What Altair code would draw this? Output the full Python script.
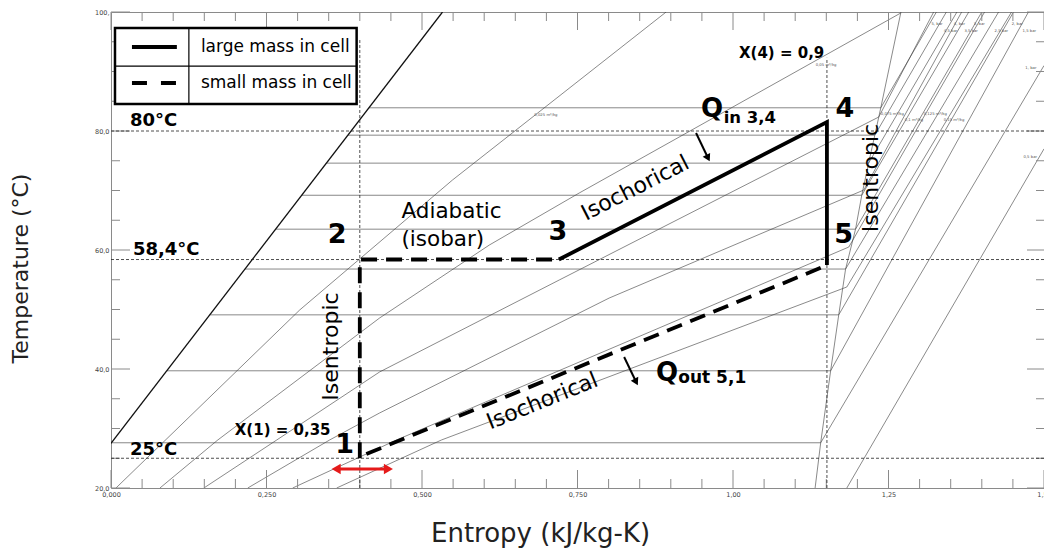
import altair as alt
import pandas as pd

W, H = 933, 476
FONT = "DejaVu Sans"

# ---------------- axis ticks ----------------
x_major = [0.0, 0.25, 0.5, 0.75, 1.0, 1.25, 1.5]
x_major_labels = ["0,000", "0,250", "0,500", "0,750", "1,00", "1,25", "1,50"]
x_minor = [0.05, 0.10, 0.15, 0.20, 0.30, 0.35, 0.40, 0.45, 0.55, 0.60, 0.65, 0.70,
           0.80, 0.85, 0.90, 0.95, 1.05, 1.10, 1.15, 1.20, 1.30, 1.35, 1.40, 1.45]
y_major = [20, 40, 60, 80, 100]
y_major_labels = ["20,0", "40,0", "60,0", "80,0", "100,"]
y_minor = [25, 30, 35, 45, 50, 55, 65, 70, 75, 85, 90, 95]

# ---------------- saturation curves ----------------
sat_liq_s = [0.0, 0.533]
sat_liq_T = [27.5, 100.0]
sat_vap_s = [1.132, 1.141, 1.157, 1.170, 1.181, 1.197, 1.207, 1.218, 1.228, 1.2376, 1.270]
sat_vap_T = [20.0, 27.6, 39.7, 49.1, 56.8, 63.5, 69.2, 74.6, 79.3, 83.9, 100.0]

# two-phase isobars (horizontal)
isobar_T = [27.6, 39.7, 49.1, 56.8, 63.5, 69.2, 74.6, 79.3, 83.9]
isobar_s_liq = [0.001, 0.0898, 0.159, 0.2156, 0.265, 0.307, 0.3466, 0.381, 0.415]
isobar_s_vap = [1.141, 1.157, 1.170, 1.181, 1.197, 1.207, 1.218, 1.228, 1.2376]

# isochores (two-phase part + superheated continuation)
iso_025_s = [0.008, 0.3034, 0.549, 0.8925]
iso_025_T = [20.0, 49.92, 71.76, 100.0]
iso_05_s = [0.0787, 0.1717, 0.4318, 0.6083, 0.7528, 1.2697]
iso_05_T = [20.0, 28.07, 48.57, 60.84, 69.58, 99.83]
iso_075_s = [0.1493, 0.2665, 0.4318, 0.7207, 1.2343, 1.3226]
iso_075_T = [20.0, 28.07, 39.50, 54.96, 82.35, 100.0]
iso_1_s = [0.2199, 0.3515, 0.4318, 0.8010, 1.2103, 1.2745, 1.3676]
iso_1_T = [20.0, 28.07, 32.61, 51.93, 70.08, 82.35, 100.0]
iso_125_s = [0.2921, 0.4591, 1.1862, 1.3066, 1.4045]
iso_125_T = [20.0, 28.07, 60.50, 82.35, 100.0]
iso_15_s = [0.3628, 0.5313, 1.1830, 1.3467, 1.4478]
iso_15_T = [20.0, 28.07, 53.78, 82.35, 100.0]

# superheated isobars: start (on saturation / bottom) -> end (top / right edge)
sh_bar_s0 = [1.183, 1.141, 1.157, 1.170, 1.181, 1.197, 1.207, 1.218, 1.228, 1.2376]
sh_bar_T0 = [20.0, 27.6, 39.7, 49.1, 56.8, 63.5, 69.2, 74.6, 79.3, 83.9]
sh_bar_s1 = [1.500, 1.500, 1.475, 1.451, 1.427, 1.400, 1.379, 1.360, 1.343, 1.327]
sh_bar_T1 = [77.0, 91.0, 100.0, 100.0, 100.0, 100.0, 100.0, 100.0, 100.0, 100.0]

# tiny chart labels
tiny_text = ["0,025 m³/kg", "0,05 m³/kg", "0,075 m³/kg", "0,1 m³/kg", "0,125 m³/kg", "0,15 m³/kg",
             "5, bar", "4,5 bar", "4, bar", "3,5 bar", "3, bar", "2,5 bar", "2, bar", "1,5 bar",
             "1, bar", "0,5 bar"]
tiny_s = [0.6806, 1.133, 1.2376, 1.2761, 1.3066, 1.3387,
          1.319, 1.339, 1.355, 1.372, 1.387, 1.4205, 1.448, 1.4655, 1.470, 1.467]
tiny_T = [82.7, 91.1, 82.9, 81.8, 82.9, 81.8,
          97.9, 96.8, 97.9, 96.8, 97.9, 96.8, 97.9, 96.8, 90.6, 75.6]

# ---------------- cycle ----------------
solid_s = [0.72, 1.151, 1.151]      # 3 -> 4 -> 5
solid_T = [58.4, 81.5, 57.5]
dash_a_s = [0.40, 0.40, 0.72]       # 1 -> 2 -> 3
dash_a_T = [25.0, 58.4, 58.4]
dash_b_s = [1.141, 0.403]           # 5 -> 1
dash_b_T = [57.0, 25.4]

# dotted guide lines
hdot_T = [80.0, 58.4, 25.0]
vdot_s = [0.40, 1.151]
vdot_T1 = [95.6, 92.3]

# ---------------- annotations ----------------
bold_text = ["80°C", "58,4°C", "25°C", "X(1) = 0,35", "X(4) = 0,9", "Q", "in 3,4", "Q", "out 5,1"]
bold_s = [0.0305, 0.0353, 0.0305, 0.199, 1.0096, 0.9486, 0.9850, 0.8764, 0.912]
bold_T = [80.84, 59.16, 25.55, 28.9, 92.27, 82.35, 81.34, 37.98, 37.65]
bold_size = [18, 18, 18, 15, 15, 26, 16.5, 26, 17]

num_text = ["1", "2", "3", "4", "5"]
num_s = [0.3756, 0.3636, 0.7183, 1.1798, 1.178]
num_T = [25.88, 61.18, 61.68, 82.35, 61.18]

plain_text = ["Adiabatic", "(isobar)"]
plain_s = [0.467, 0.467]
plain_T = [65.38, 60.67]

rot_text = ["Isentropic", "Isentropic", "Isochorical", "Isochorical"]
rot_s = [0.354, 1.2223, 0.8427, 0.6934]
rot_T = [43.78, 72.1, 70.42, 34.62]
rot_angle = [270, 270, 333, 338]

# arrows
qin_s = [0.9406, 0.9599]
qin_T = [79.66, 75.46]
qout_s = [0.8250, 0.8443]
qout_T = [42.02, 37.82]
red_s = [0.362, 0.446]
red_T = [23.2, 23.2]

# legend box
leg_s = [0.0064, 0.3949]
leg_T = [84.54, 97.31]
leg_div_s = 0.1252
leg_div_T = 90.92
leg_row_T = [94.12, 88.07]
leg_sample_s = [0.0337, 0.1059]
leg_text = ["large mass in cell", "small mass in cell"]
leg_text_s = 0.1445


# ---------------- helpers ----------------
def lbl_expr(vals, labels):
    expr = "''"
    for v, l in reversed(list(zip(vals, labels))):
        expr = f"abs(datum.value - {v}) < 0.0001 ? '{l}' : {expr}"
    return expr


xscale = alt.Scale(domain=[0, 1.5], nice=False, zero=False)
yscale = alt.Scale(domain=[20, 100], nice=False, zero=False)
xaxis = alt.Axis(values=x_major, labelExpr=lbl_expr(x_major, x_major_labels), ticks=False, tickSize=0,
                 domain=False, grid=False, labelFont=FONT, labelFontSize=6.5, labelColor="#444",
                 labelPadding=3, labelFlush=False, labelOverlap=False,
                 title="Entropy (kJ/kg-K)", titleFont=FONT, titleFontSize=26, titleFontWeight="normal",
                 titleColor="#222", titleX=429, titleY=45, titleAlign="center", titleBaseline="middle")
yaxis = alt.Axis(values=y_major, labelExpr=lbl_expr(y_major, y_major_labels), ticks=False, tickSize=0,
                 domain=False, grid=False, labelFont=FONT, labelFontSize=6.5, labelColor="#444",
                 labelPadding=2, labelFlush=False, labelOverlap=False,
                 title="Temperature (°C)", titleFont=FONT, titleFontSize=22, titleFontWeight="normal",
                 titleColor="#222", titleX=-91, titleY=256, titleAngle=270, titleAlign="center",
                 titleBaseline="middle")


def X(f="s"):
    return alt.X(f"{f}:Q", scale=xscale, axis=xaxis)


def Y(f="T"):
    return alt.Y(f"{f}:Q", scale=yscale, axis=yaxis)


def path_df(name, s, T):
    return pd.DataFrame({"id": name, "ord": list(range(len(s))), "s": s, "T": T})


layers = []

# two-phase horizontal isobars
df_iso = pd.DataFrame({"s0": isobar_s_liq, "s1": isobar_s_vap, "T": isobar_T})
layers.append(alt.Chart(df_iso).mark_rule(color="#7a7a7a", strokeWidth=0.9)
              .encode(x=X("s0"), x2="s1", y=Y()))

# thin diagonal lines: isochores, saturated vapour, superheated isobars
thin = [path_df("v025", iso_025_s, iso_025_T), path_df("v05", iso_05_s, iso_05_T),
        path_df("v075", iso_075_s, iso_075_T), path_df("v1", iso_1_s, iso_1_T),
        path_df("v125", iso_125_s, iso_125_T), path_df("v15", iso_15_s, iso_15_T),
        path_df("satv", sat_vap_s, sat_vap_T)]
for i in range(len(sh_bar_s0)):
    thin.append(path_df(f"p{i}", [sh_bar_s0[i], sh_bar_s1[i]], [sh_bar_T0[i], sh_bar_T1[i]]))
df_thin = pd.concat(thin, ignore_index=True)
layers.append(alt.Chart(df_thin).mark_line(color="#3a3a3a", strokeWidth=0.6, clip=True)
              .encode(x=X(), y=Y(), detail="id:N", order="ord:Q"))

# saturated liquid line
layers.append(alt.Chart(path_df("satl", sat_liq_s, sat_liq_T)).mark_line(color="#111", strokeWidth=1.3, clip=True)
              .encode(x=X(), y=Y(), order="ord:Q"))

# tiny labels
df_tiny = pd.DataFrame({"txt": tiny_text, "s": tiny_s, "T": tiny_T})
layers.append(alt.Chart(df_tiny).mark_text(font=FONT, fontSize=3.8, color="#555", align="left",
                                           baseline="middle")
              .encode(x=X(), y=Y(), text="txt:N"))

# ticks on four sides
df_xM = pd.DataFrame({"s": x_major})
df_xm = pd.DataFrame({"s": x_minor})
df_yM = pd.DataFrame({"T": y_major})
df_ym = pd.DataFrame({"T": y_minor})
tick_col = "#8a8a8a"
layers += [
    alt.Chart(df_xM).mark_rule(color=tick_col).encode(x=X(), y=alt.value(H), y2=alt.value(H - 18)),
    alt.Chart(df_xm).mark_rule(color=tick_col).encode(x=X(), y=alt.value(H), y2=alt.value(H - 9)),
    alt.Chart(df_xM).mark_rule(color=tick_col).encode(x=X(), y=alt.value(0), y2=alt.value(18)),
    alt.Chart(df_xm).mark_rule(color=tick_col).encode(x=X(), y=alt.value(0), y2=alt.value(9)),
    alt.Chart(df_yM).mark_rule(color=tick_col).encode(y=Y(), x=alt.value(0), x2=alt.value(19)),
    alt.Chart(df_ym).mark_rule(color=tick_col).encode(y=Y(), x=alt.value(0), x2=alt.value(9)),
    alt.Chart(df_yM).mark_rule(color=tick_col).encode(y=Y(), x=alt.value(W), x2=alt.value(W - 17)),
    alt.Chart(df_ym).mark_rule(color=tick_col).encode(y=Y(), x=alt.value(W), x2=alt.value(W - 8)),
]

# dotted guide lines
df_hdot = pd.DataFrame({"T": hdot_T, "s0": [0.0] * 3, "s1": [1.5] * 3})
layers.append(alt.Chart(df_hdot).mark_rule(color="#222", strokeWidth=0.8, strokeDash=[3, 2])
              .encode(x=X("s0"), x2="s1", y=Y()))
df_vdot = pd.DataFrame({"s": vdot_s, "T0": [20.0, 20.0], "T1": vdot_T1})
layers.append(alt.Chart(df_vdot).mark_rule(color="#222", strokeWidth=0.8, strokeDash=[3, 2])
              .encode(x=X(), y=Y("T0"), y2="T1"))

# cycle
layers.append(alt.Chart(path_df("solid", solid_s, solid_T)).mark_line(color="black", strokeWidth=3.8,
                                                                       strokeCap="butt")
              .encode(x=X(), y=Y(), order="ord:Q"))
layers.append(alt.Chart(path_df("da", dash_a_s, dash_a_T)).mark_line(color="black", strokeWidth=3.8,
                                                                     strokeDash=[16, 9])
              .encode(x=X(), y=Y(), order="ord:Q"))
layers.append(alt.Chart(path_df("db", dash_b_s, dash_b_T)).mark_line(color="black", strokeWidth=3.8,
                                                                     strokeDash=[16, 9])
              .encode(x=X(), y=Y(), order="ord:Q"))

# arrows
for nm, s, T in [("qin", qin_s, qin_T), ("qout", qout_s, qout_T)]:
    layers.append(alt.Chart(path_df(nm, s, T)).mark_line(color="black", strokeWidth=2)
                  .encode(x=X(), y=Y(), order="ord:Q"))
df_heads = pd.DataFrame({"s": [qin_s[1], qout_s[1]], "T": [qin_T[1], qout_T[1]]})
layers.append(alt.Chart(df_heads).mark_point(shape="triangle-down", filled=True, color="black", size=70,
                                             opacity=1, angle=333)
              .encode(x=X(), y=Y()))
layers.append(alt.Chart(path_df("red", red_s, red_T)).mark_line(color="#e51a1a", strokeWidth=3)
              .encode(x=X(), y=Y(), order="ord:Q"))
layers.append(alt.Chart(pd.DataFrame({"s": [red_s[0]], "T": [red_T[0]]}))
              .mark_point(shape="triangle-left", filled=True, color="#e51a1a", size=110, opacity=1)
              .encode(x=X(), y=Y()))
layers.append(alt.Chart(pd.DataFrame({"s": [red_s[1]], "T": [red_T[1]]}))
              .mark_point(shape="triangle-right", filled=True, color="#e51a1a", size=110, opacity=1)
              .encode(x=X(), y=Y()))

# annotations
df_bold = pd.DataFrame({"txt": bold_text, "s": bold_s, "T": bold_T, "sz": bold_size})
layers.append(alt.Chart(df_bold).mark_text(font=FONT, fontWeight="bold", align="left", baseline="alphabetic",
                                           color="black")
              .encode(x=X(), y=Y(), text="txt:N", size=alt.Size("sz:Q", scale=None, legend=None)))
df_num = pd.DataFrame({"txt": num_text, "s": num_s, "T": num_T})
layers.append(alt.Chart(df_num).mark_text(font=FONT, fontWeight="bold", fontSize=27, align="center",
                                          baseline="alphabetic", color="black")
              .encode(x=X(), y=Y(), text="txt:N"))
df_plain = pd.DataFrame({"txt": plain_text, "s": plain_s, "T": plain_T})
layers.append(alt.Chart(df_plain).mark_text(font=FONT, fontSize=21.5, align="left", baseline="alphabetic",
                                            color="black")
              .encode(x=X(), y=Y(), text="txt:N"))
df_rot = pd.DataFrame({"txt": rot_text, "s": rot_s, "T": rot_T, "ang": rot_angle})
layers.append(alt.Chart(df_rot).mark_text(font=FONT, fontSize=22, align="center", baseline="middle",
                                          color="black")
              .encode(x=X(), y=Y(), text="txt:N", angle=alt.Angle("ang:Q", scale=None)))

# legend box
df_leg = pd.DataFrame({"s0": [leg_s[0]], "s1": [leg_s[1]], "T0": [leg_T[0]], "T1": [leg_T[1]]})
layers.append(alt.Chart(df_leg).mark_rect(fill="white", stroke="black", strokeWidth=2.5)
              .encode(x=X("s0"), x2="s1", y=Y("T0"), y2="T1"))
layers.append(alt.Chart(pd.DataFrame({"s": [leg_div_s], "T0": [leg_T[0]], "T1": [leg_T[1]]}))
              .mark_rule(color="black", strokeWidth=1.2).encode(x=X(), y=Y("T0"), y2="T1"))
layers.append(alt.Chart(pd.DataFrame({"s0": [leg_s[0]], "s1": [leg_s[1]], "T": [leg_div_T]}))
              .mark_rule(color="black", strokeWidth=1.2).encode(x=X("s0"), x2="s1", y=Y()))
layers.append(alt.Chart(pd.DataFrame({"s0": [leg_sample_s[0]], "s1": [leg_sample_s[1]], "T": [leg_row_T[0]]}))
              .mark_rule(color="black", strokeWidth=4).encode(x=X("s0"), x2="s1", y=Y()))
layers.append(alt.Chart(pd.DataFrame({"s0": [leg_sample_s[0]], "s1": [leg_sample_s[1]], "T": [leg_row_T[1]]}))
              .mark_rule(color="black", strokeWidth=4, strokeDash=[15, 14]).encode(x=X("s0"), x2="s1", y=Y()))
df_legt = pd.DataFrame({"txt": leg_text, "s": [leg_text_s] * 2, "T": leg_row_T})
layers.append(alt.Chart(df_legt).mark_text(font=FONT, fontSize=17, align="left", baseline="middle",
                                           color="black")
              .encode(x=X(), y=Y(), text="txt:N"))

chart = (alt.layer(*layers)
         .properties(width=W, height=H, background="white",
                     padding={"left": 111, "top": 12, "right": 0, "bottom": 61},
                     autosize=alt.AutoSizeParams(type="none"))
         .configure_view(stroke="#8a8a8a", strokeWidth=1))

chart.save("out.html", embed_options={"renderer": "svg", "actions": False})
